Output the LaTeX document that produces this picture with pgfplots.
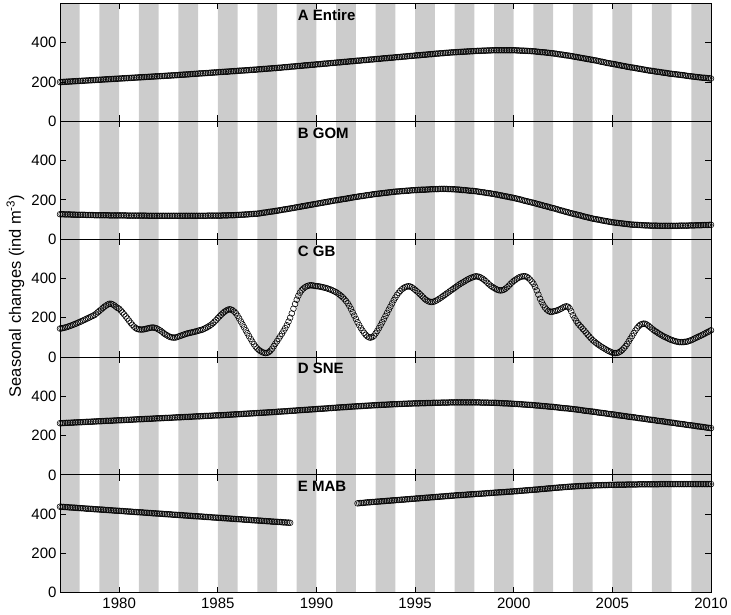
\documentclass[border=0pt]{standalone}
\usepackage{pgfplots}
\pgfplotsset{compat=1.18}
\usepackage{pgfplotstable}
\usepackage{fontspec}
\setmainfont{Liberation Sans}
\definecolor{bandgray}{RGB}{204,204,204}

\pgfplotstableread{
A B C D E
200 127 145 263 438
200 127 146 263 437
201 127 148 264 437
201 126 150 264 436
202 126 152 265 436
202 126 155 265 435
203 126 158 265 434
203 125 161 266 434
204 125 164 266 433
204 125 168 267 433
205 124 171 267 432
205 124 175 268 431
206 124 178 268 431
206 124 182 268 430
207 124 186 269 430
207 124 190 269 429
208 123 194 270 428
208 123 198 270 428
209 123 202 270 427
209 123 206 271 427
210 123 210 271 426
210 122 214 272 425
211 122 221 272 425
211 122 228 273 424
212 122 235 273 424
212 122 242 273 423
213 122 249 274 423
213 122 256 274 422
214 122 262 275 421
214 122 267 275 421
215 121 271 275 420
215 121 271 276 420
216 121 268 276 419
216 121 263 277 418
217 121 256 277 418
217 121 250 278 417
218 121 246 278 417
218 121 237 278 416
219 121 227 279 416
219 121 217 279 415
220 121 207 280 414
220 120 196 280 414
221 120 185 280 413
221 120 174 281 413
222 120 164 281 412
222 120 155 282 411
223 120 148 282 411
223 120 143 283 410
224 120 141 283 410
224 120 140 283 409
225 120 140 284 409
225 120 141 284 408
226 120 143 285 407
226 119 145 285 407
227 119 147 285 406
227 119 149 286 406
228 119 150 286 405
228 119 150 287 404
229 119 148 287 404
229 119 145 288 403
230 119 140 288 403
230 119 135 288 402
231 119 129 289 402
231 119 122 289 401
232 119 116 290 400
232 119 111 290 400
233 119 106 290 399
233 119 102 291 399
234 119 100 291 398
234 119 99 292 397
235 119 99 292 397
235 119 101 293 396
236 119 104 293 396
237 119 107 293 395
237 119 110 294 395
238 119 113 294 394
238 119 116 295 393
239 119 119 295 393
239 119 121 295 392
240 119 123 296 392
241 119 125 296 391
241 119 127 297 390
242 119 129 297 390
242 119 131 298 389
243 119 134 298 389
244 119 136 298 388
244 119 138 299 388
245 119 141 299 387
245 119 145 300 386
246 119 149 300 386
246 120 154 300 385
247 120 159 301 385
248 120 165 301 384
248 120 172 302 383
249 120 180 302 383
249 120 188 303 382
250 120 198 303 382
251 120 207 303 381
251 120 215 304 381
252 121 223 304 380
252 121 230 305 379
253 121 236 305 379
253 121 240 306 378
254 122 243 306 378
255 122 242 307 377
255 122 238 307 376
256 122 231 308 376
256 123 223 308 375
257 123 210 309 375
258 124 196 309 374
258 124 181 310 374
259 125 166 310 373
259 125 151 311 372
260 126 136 311 372
260 126 121 312 371
261 127 106 312 371
262 128 92 313 370
262 128 78 313 369
263 129 65 314 369
263 129 53 314 368
264 130 43 315 368
265 131 36 315 367
265 132 30 316 367
266 134 25 316 366
267 135 22 317 365
267 136 20 317 365
268 137 21 318 364
269 139 25 318 364
269 140 32 319 363
270 141 42 319 362
271 142 55 320 362
271 144 68 320 361
272 145 80 321 361
273 146 93 322 360
273 148 106 322 360
274 149 119 323 359
275 151 133 323 358
276 152 147 324 358
276 153 162 324 357
277 155 180 325 357
278 156 200 326 356
279 158 222 326 nan
279 159 246 327 nan
280 161 270 327 nan
281 162 292 328 nan
282 164 312 329 nan
282 165 328 329 nan
283 167 340 330 nan
284 168 349 330 nan
285 170 355 331 nan
285 171 360 331 nan
286 173 363 332 nan
287 174 365 333 nan
288 176 365 333 nan
288 177 364 334 nan
289 179 362 334 nan
290 180 361 335 nan
291 182 360 336 nan
291 183 359 336 nan
292 185 357 337 nan
293 186 355 337 nan
294 188 353 338 nan
294 189 351 338 nan
295 191 348 339 nan
296 192 345 340 nan
297 194 342 340 nan
297 195 338 341 nan
298 197 334 341 nan
299 198 330 342 nan
300 199 324 343 nan
300 201 318 343 nan
301 202 311 344 nan
302 204 304 344 nan
303 205 295 345 nan
303 206 285 345 nan
304 208 274 346 nan
305 209 260 347 nan
306 211 245 347 nan
306 212 228 348 nan
307 214 211 348 nan
308 215 194 349 nan
309 216 177 349 455
309 218 162 350 456
310 219 148 350 457
311 220 135 351 457
312 221 123 351 458
312 223 113 352 459
313 224 105 352 460
314 225 100 353 460
315 226 99 353 461
315 228 102 354 462
316 229 108 354 462
317 230 120 355 463
318 231 133 355 464
318 232 147 356 464
319 233 162 356 465
320 234 177 357 466
321 235 193 357 466
321 236 209 357 467
322 237 225 358 468
323 238 241 358 468
324 239 257 359 469
324 240 273 359 470
325 241 289 360 470
326 242 303 360 471
327 243 316 360 472
327 243 327 361 472
328 244 337 361 473
329 245 345 361 474
330 245 351 362 474
330 246 356 362 475
331 247 359 362 476
332 247 360 363 476
333 248 359 363 477
333 249 355 363 478
334 249 349 364 478
335 250 342 364 479
336 250 335 364 480
336 251 328 364 480
337 251 320 365 481
338 252 312 365 482
339 252 303 365 482
339 252 295 365 483
340 253 289 366 484
341 253 284 366 484
342 254 281 366 485
342 254 280 366 486
343 255 281 367 486
344 255 284 367 487
345 255 288 367 488
345 255 293 367 488
346 256 298 367 489
347 256 304 368 490
347 256 310 368 490
348 256 316 368 491
349 256 322 368 492
349 255 328 368 492
350 255 334 369 493
351 255 340 369 494
351 254 346 369 494
352 254 352 369 495
352 253 358 369 496
353 253 364 369 496
353 252 370 369 497
354 251 375 369 497
354 250 380 369 498
355 250 385 369 498
355 249 390 369 499
356 248 395 369 500
356 247 399 369 500
357 246 403 369 501
357 246 406 369 501
358 245 409 369 502
358 244 411 369 503
359 243 410 369 503
359 241 408 369 504
359 240 404 368 504
360 239 399 368 505
360 238 393 368 505
360 236 386 368 506
361 235 378 368 507
361 234 370 367 507
361 233 363 367 508
362 231 357 367 508
362 230 352 367 509
362 228 347 367 510
362 227 343 366 510
362 225 340 366 511
362 223 339 365 511
362 222 340 365 512
362 220 343 364 512
362 218 348 364 513
362 217 355 364 514
362 215 363 363 514
362 213 372 363 515
362 212 380 362 515
362 210 387 362 516
362 208 393 361 517
361 206 399 361 517
361 204 404 360 518
360 202 408 360 519
360 200 410 359 519
360 197 411 358 520
359 195 411 358 521
359 193 408 357 521
358 191 402 357 522
358 189 394 356 523
357 187 384 356 523
357 185 373 355 524
356 183 357 354 525
355 180 339 353 525
354 178 318 353 526
353 176 297 352 527
352 174 280 351 528
352 171 265 350 528
351 169 252 350 529
350 167 242 349 530
349 165 235 348 531
348 162 231 347 531
347 160 230 347 532
346 158 232 346 533
345 156 234 345 534
344 153 236 344 534
342 151 239 343 535
341 148 243 342 536
340 146 247 341 536
339 144 252 340 537
337 141 256 339 538
336 139 258 339 538
335 137 256 338 539
334 134 248 337 540
332 132 232 336 540
331 130 213 335 541
329 128 198 334 541
328 126 184 333 542
326 124 172 332 542
325 122 162 331 543
323 120 153 330 543
322 117 143 328 543
320 115 134 327 544
319 113 124 326 544
317 111 114 325 545
316 109 104 324 545
314 107 95 323 546
313 105 86 322 546
311 103 79 321 546
310 102 72 320 547
308 100 66 318 547
306 99 60 317 547
304 97 54 316 547
303 95 49 315 548
301 94 44 314 548
299 92 39 313 548
297 91 34 311 548
296 89 30 310 549
294 88 26 309 549
293 86 22 308 549
291 85 20 307 549
290 84 20 306 549
288 83 21 304 550
286 82 24 303 550
285 81 29 302 550
283 80 36 301 550
282 79 45 300 550
280 78 55 299 550
278 77 67 297 551
277 76 80 296 551
275 75 94 295 551
274 74 107 294 551
273 74 121 293 551
271 73 135 292 551
270 73 147 290 551
268 72 157 289 552
267 72 164 288 552
265 71 168 287 552
264 71 170 286 552
262 70 169 285 552
261 70 165 283 552
259 70 159 282 552
258 69 152 281 552
257 69 145 280 552
256 69 138 279 552
254 69 132 278 552
253 69 127 276 552
252 68 121 275 552
251 68 116 274 553
249 68 111 273 553
248 68 106 272 553
247 68 102 271 553
246 68 98 269 553
244 68 94 268 553
243 68 90 267 553
242 68 87 266 553
241 68 84 265 553
240 68 81 264 553
239 68 79 262 553
238 68 77 261 553
237 69 76 260 553
236 69 76 259 553
235 69 76 258 553
234 69 77 257 553
232 69 78 255 553
231 69 80 254 553
230 70 83 253 553
229 70 86 252 553
228 70 90 251 553
227 70 94 250 553
226 71 98 248 553
225 71 102 247 553
224 71 106 246 553
223 71 110 245 553
222 72 114 244 553
222 72 118 243 553
221 72 123 241 553
220 72 127 240 553
219 73 131 239 553
218 73 136 238 553
}\data

\newcommand{\bands}{%
  \addplot[ybar interval, fill=bandgray, draw=none, forget plot] coordinates {
    (1977,600) (1978,0) (1979,600) (1980,0) (1981,600) (1982,0) (1983,600) (1984,0)
    (1985,600) (1986,0) (1987,600) (1988,0) (1989,600) (1990,0) (1991,600) (1992,0)
    (1993,600) (1994,0) (1995,600) (1996,0) (1997,600) (1998,0) (1999,600) (2000,0)
    (2001,600) (2002,0) (2003,600) (2004,0) (2005,600) (2006,0) (2007,600) (2008,0)
    (2009,600) (2010,0)};
}

\pgfplotsset{
  panel/.style={
    anchor=south west, width=651pt, height=117.84pt, scale only axis,
    xmin=1977, xmax=2010, ymin=0, ymax=600,
    xtick={1980,1985,1990,1995,2000,2005,2010}, ytick={0,200,400},
    xticklabels={},
    tick align=inside, major tick length=6pt,
    xtick pos=both, ytick pos=both,
    axis on top, clip=false,
    axis line style={line width=0.8pt, black},
    every tick/.append style={line width=0.8pt, black},
    tick label style={font=\fontsize{15}{18}\selectfont},
    /pgf/number format/assume math mode=true,
    /pgf/number format/1000 sep={},
  },
  circ/.style={only marks, mark=o, mark size=2.9pt, black, mark options={line width=0.55pt}},
}
\newcommand{\ptitle}[1]{\node[anchor=west, inner sep=0pt, font=\bfseries\fontsize{15}{18}\selectfont] at (axis cs:1989.05,540) {#1};}

\begin{document}
\begin{tikzpicture}
\useasboundingbox (0,0) rectangle (731pt,614pt);

\begin{axis}[panel, at={(60pt,492.66pt)}]
\bands
\addplot[circ] table[x expr=1977+\coordindex/12, y=A] {\data};
\ptitle{A Entire}
\end{axis}

\begin{axis}[panel, at={(60pt,374.82pt)}]
\bands
\addplot[circ] table[x expr=1977+\coordindex/12, y=B] {\data};
\ptitle{B GOM}
\end{axis}

\begin{axis}[panel, at={(60pt,256.98pt)}]
\bands
\addplot[circ] table[x expr=1977+\coordindex/12, y=C] {\data};
\ptitle{C GB}
\end{axis}

\begin{axis}[panel, at={(60pt,139.14pt)}]
\bands
\addplot[circ] table[x expr=1977+\coordindex/12, y=D] {\data};
\ptitle{D SNE}
\end{axis}

\begin{axis}[panel, at={(60pt,21.3pt)},
  xticklabels={1980,1985,1990,1995,2000,2005,2010},
  xticklabel style={yshift=-2pt}]
\bands
\addplot[circ] table[x expr=1977+\coordindex/12, y=E] {\data};
\ptitle{E MAB}
\end{axis}

\node[rotate=90, font=\fontsize{16.5}{19}\selectfont] at (15.5pt,318pt) {Seasonal changes (ind m\textsuperscript{-3})};
\end{tikzpicture}
\end{document}
